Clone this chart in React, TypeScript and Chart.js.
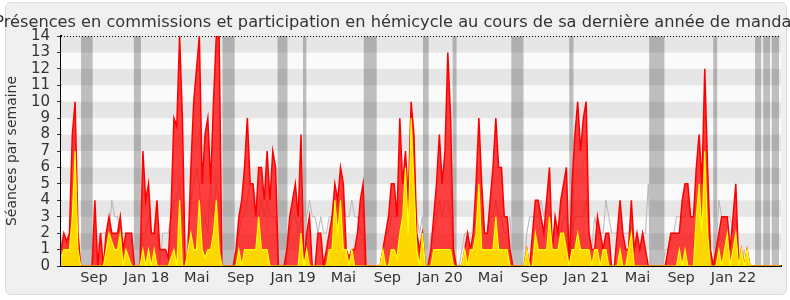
import React, { useEffect, useRef } from "react";
import { Chart, registerables } from "chart.js";

Chart.register(...registerables);

const TITLE = "Présences en commissions et participation en hémicycle au cours de sa dernière année de mandat";
const Y_TITLE = "Séances par semaine";
const Y_MAX = 14;

// Weekly values (week index 0 .. 255)
const presences = [
  1, 2, 1.5, 2, 8, 10, 2, 0, 0, 0,
  0, 0, 4, 0, 2, 0, 2, 3, 2, 2,
  2, 3, 1, 2, 2, 2, 0, 0, 0, 7,
  4, 5, 2, 2, 4, 1, 1, 1, 0.5, 3.5,
  9, 8.5, 14, 9, 0, 1, 6, 10, 12, 14,
  5, 8, 9, 5, 10, 14, 14, 0, 0, 0,
  0, 0, 1, 3, 4, 6, 9, 5, 5, 3,
  6, 6, 4, 7, 4, 7, 6, 0, 0, 0,
  1, 3, 4, 5, 3, 8, 0, 2, 3, 0,
  0, 2, 2, 0, 1, 2, 3, 5, 4, 6,
  5, 1, 0.5, 1, 1, 2, 4, 5, 0, 0,
  0, 0, 0, 0, 1, 2, 3, 5, 5, 3,
  9, 5, 7, 4, 10, 8, 2, 1, 2, 0,
  0, 1, 3, 5, 8, 5, 7, 13, 9, 1,
  0, 0, 0, 1, 2, 1, 2, 5, 9, 5,
  2, 2, 4, 6, 9, 6, 6, 3, 3, 1,
  0, 0, 0, 0, 0, 1, 0, 2, 4, 4,
  3, 2, 4, 6, 1, 3, 2, 4, 5, 6,
  0, 5, 8, 10, 7, 9, 10, 2, 1, 1,
  3, 2, 1, 2, 2, 0, 0, 2, 4, 2,
  1, 1, 4, 1, 2, 1, 2, 1, 0, 0,
  0, 0, 0, 0, 0, 1, 2, 2, 2, 2,
  4, 5, 5, 3, 3, 6, 8, 5, 12, 6,
  1, 0, 1, 2, 3, 3, 3, 1, 3, 5,
  0, 1, 0, 1, 0, 0, 0, 0, 0, 0,
  0, 0, 0, 0, 0, 0,
];

const interventions = [
  0.5, 1, 1, 1, 3, 7, 1, 0, 0, 0,
  0, 0, 0, 0, 0, 0, 1, 2, 1.5, 1,
  1, 2, 0, 1, 0.5, 0, 0, 0, 0, 1,
  0, 1, 0, 1, 0, 0, 0, 0, 0, 0.5,
  1, 0, 4, 0, 0, 1, 2, 1, 1, 4,
  1, 0.5, 1, 1, 2, 4, 1, 0, 0, 0,
  0, 0, 0, 1, 0, 1, 1, 1, 1, 1,
  3, 1, 1, 1, 0, 0, 0, 0, 0, 0,
  0, 0, 0, 0, 0, 2, 0, 1, 0, 0,
  0, 0, 0, 0, 0, 1, 1, 4, 2, 4,
  1, 1, 0, 1, 0, 0, 0, 0, 0, 0,
  0, 0, 0, 0, 1, 0, 0, 1, 1, 0.5,
  2, 3, 6, 2, 9, 5, 1, 0, 2, 0,
  0, 0, 1, 1, 1, 1, 1, 1, 1, 0,
  0, 0, 0, 1, 0, 1, 1, 2, 5, 1,
  1, 1, 1, 1, 3, 1, 1, 1, 1, 0,
  0, 0, 0, 0, 0, 1, 0, 0, 2, 1,
  1, 1, 1, 3, 1, 1, 1, 2, 2, 1,
  0, 1, 1, 2, 1, 1, 1, 1, 0, 1,
  1, 0, 1, 1, 0, 0, 0, 0, 1, 0,
  0, 1, 2, 0, 0, 0, 0, 0, 0, 0,
  0, 0, 0, 0, 0, 0, 0, 0, 0, 1,
  0, 1, 0, 0, 0, 3, 5, 2, 7, 2,
  0, 0, 0, 1, 0, 1, 2, 0, 1, 2,
  0, 1, 0, 1, 0, 0, 0, 0, 0, 0,
  0, 0, 0, 0, 0, 0,
];

const mediane = [
  0, 1, 1, 2, 2, 2, 1, 0, 0, 0,
  0, 0, 1, 1, 2, 2, 2, 2, 4, 3,
  3, 2, 2, 2, 2, 2, 0, 0, 0, 2,
  2, 3, 2, 2, 2, 0, 2, 2, 2, 3,
  4, 4, 5, 3, 0, 2, 4, 5, 6, 5,
  2, 3, 2, 5, 3, 5, 4, 0, 0, 0,
  0, 0, 1, 2, 3, 3, 4, 5, 5, 4,
  3, 4, 3, 4, 3, 3, 3, 0, 0, 0,
  1, 2, 3, 3, 2, 3, 1, 3, 4, 3,
  3, 2, 3, 2, 2, 3, 3, 3, 4, 3,
  4, 3, 3, 4, 3, 3, 2, 2, 0, 0,
  0, 0, 0, 0, 1, 2, 2, 3, 3, 3,
  4, 4, 3, 3, 4, 3, 3, 2, 3, 0,
  0, 2, 2, 3, 4, 3, 4, 4, 3, 1,
  0, 0, 1, 2, 2, 2, 2, 3, 3, 3,
  2, 2, 3, 3, 4, 3, 3, 2, 2, 3,
  0, 0, 0, 0, 0, 2, 3, 3, 3, 3,
  4, 3, 4, 3, 2, 2, 2, 2, 3, 3,
  0, 2, 3, 3, 3, 3, 4, 2, 1, 3,
  2, 2, 2, 4, 3, 2, 2, 2, 2, 2,
  2, 2, 2, 2, 2, 1, 2, 2, 5, 0,
  0, 0, 0, 0, 1, 1, 2, 2, 3, 3,
  3, 3, 4, 3, 3, 4, 4, 3, 3, 2,
  1, 0, 1, 4, 3, 3, 3, 3, 2, 3,
  1, 0, 1, 0, 0, 0, 0, 0, 0, 0,
  0, 0, 0, 0, 0, 0,
];

// Month tick labels, placed at week positions
const tickWeeks = [11.7, 30.3, 48.1, 63.6, 82.2, 100, 115.6, 134.2, 152.1, 167.6, 186, 204.2, 219.6, 238.2];
const tickLabels = ["Sep", "Jan 18", "Mai", "Sep", "Jan 19", "Mai", "Sep", "Jan 20", "Mai", "Sep", "Jan 21", "Mai", "Sep", "Jan 22"];

// Parliamentary holidays (in weeks)
const vacStart = [7.1, 25.8, 57.2, 76.7, 85.7, 107.2, 128.2, 138.7, 159.5, 180, 208.3, 231, 245.8, 248.7, 251.7];
const vacEnd = [11.2, 28.3, 61.5, 80.2, 86.9, 111.8, 130.2, 140.1, 163.8, 181.5, 213.7, 232.4, 248, 251.1, 254.3];

const FONT = "DejaVu Sans";
const TEXT = "#333";

const bgPlugin = {
  id: "bgStripes",
  beforeDatasetsDraw(chart: any) {
    const { ctx, chartArea: a, scales } = chart;
    const x = scales.x;
    const y = scales.y;
    ctx.save();
    for (let k = 0; k < Y_MAX; k++) {
      const top = y.getPixelForValue(k + 1);
      const bot = y.getPixelForValue(k);
      ctx.fillStyle = k % 2 === 1 ? "#e6e6e6" : "#fafafa";
      ctx.fillRect(a.left, top, a.right - a.left, bot - top);
    }
    ctx.fillStyle = "rgba(0,0,0,0.24)";
    vacStart.forEach((s, i) => {
      const l = x.getPixelForValue(s);
      const r = x.getPixelForValue(vacEnd[i]);
      ctx.fillRect(l, a.top, r - l, a.bottom - a.top);
    });
    const yt = Math.round(y.getPixelForValue(Y_MAX)) + 0.5;
    ctx.strokeStyle = "#000";
    ctx.lineWidth = 1;
    ctx.setLineDash([1, 2]);
    ctx.beginPath();
    ctx.moveTo(a.left, yt);
    ctx.lineTo(a.right, yt);
    ctx.stroke();
    ctx.restore();
  },
};

const titlePlugin = {
  id: "freeTitle",
  afterDraw(chart: any) {
    const ctx = chart.ctx;
    ctx.save();
    ctx.font = `16.2px "${FONT}"`;
    ctx.fillStyle = TEXT;
    ctx.textAlign = "center";
    ctx.textBaseline = "alphabetic";
    ctx.fillText(TITLE, chart.width / 2 + 1, 27);
    ctx.restore();
  },
};

function ChartBox() {
  const ref = useRef<HTMLCanvasElement | null>(null);
  useEffect(() => {
    if (!ref.current) return;
    const toPts = (arr: number[]) => arr.map((v, i) => ({ x: i, y: v }));
    const chart = new Chart(ref.current, {
      type: "line",
      data: {
        datasets: [
          {
            label: "Interventions",
            data: toPts(interventions),
            borderColor: "#ffff00",
            backgroundColor: "#ffd700",
            borderWidth: 1.2,
            fill: "origin",
            pointRadius: 0,
            tension: 0,
          },
          {
            label: "Présences",
            data: toPts(presences),
            borderColor: "#ff0000",
            backgroundColor: "rgba(255,0,0,0.75)",
            borderWidth: 1.5,
            fill: "origin",
            pointRadius: 0,
            tension: 0,
          },
          {
            label: "Médiane",
            data: toPts(mediane),
            borderColor: "#b8b8b8",
            borderWidth: 1,
            fill: false,
            pointRadius: 0,
            tension: 0,
          },
        ],
      },
      options: {
        animation: false,
        responsive: false,
        devicePixelRatio: 1,
        layout: { padding: { left: 0, right: 9, top: 36, bottom: 0 } },
        plugins: {
          legend: { display: false },
          tooltip: { enabled: false },
          title: { display: false },
        },
        scales: {
          x: {
            type: "linear",
            min: 0,
            max: presences.length - 1,
            z: 1,
            afterBuildTicks(s: any) {
              s.ticks = tickWeeks.map((v) => ({ value: v }));
            },
            afterFit(s: any) {
              s.height = 34;
            },
            ticks: {
              autoSkip: false,
              maxRotation: 0,
              padding: 4,
              color: TEXT,
              font: { family: FONT, size: 14.5 },
              callback: (_v: any, i: number) => tickLabels[i],
            },
            grid: { display: false, drawTicks: false },
            border: { display: true, color: "#000", width: 2 },
          },
          y: {
            min: 0,
            max: Y_MAX,
            z: 1,
            afterFit(s: any) {
              s.width = 61;
            },
            ticks: {
              stepSize: 1,
              autoSkip: false,
              padding: 7,
              color: TEXT,
              font: { family: FONT, size: 15 },
            },
            grid: { drawOnChartArea: false, drawTicks: true, tickLength: 4, tickColor: "#333" },
            border: { display: true, color: "#000", width: 2 },
            title: {
              display: true,
              text: Y_TITLE,
              color: TEXT,
              font: { family: FONT, size: 14 },
              padding: { top: 4, bottom: 0 },
            },
          },
        },
      },
      plugins: [bgPlugin, titlePlugin],
    });
    return () => chart.destroy();
  }, []);
  return <canvas ref={ref} width={790} height={300} style={{ position: "absolute", left: 0, top: 0 }} />;
}

export default function App() {
  return (
    <div style={{ position: "fixed", left: 0, top: 0, width: 790, height: 300, background: "#fff", overflow: "hidden" }}>
      <div
        style={{
          position: "absolute",
          left: 5,
          top: 2,
          width: 782,
          height: 293,
          background: "#f0f0f0",
          border: "1px solid #dcdcdc",
          borderRadius: 6,
          boxSizing: "border-box",
        }}
      />
      <ChartBox />
    </div>
  );
}
